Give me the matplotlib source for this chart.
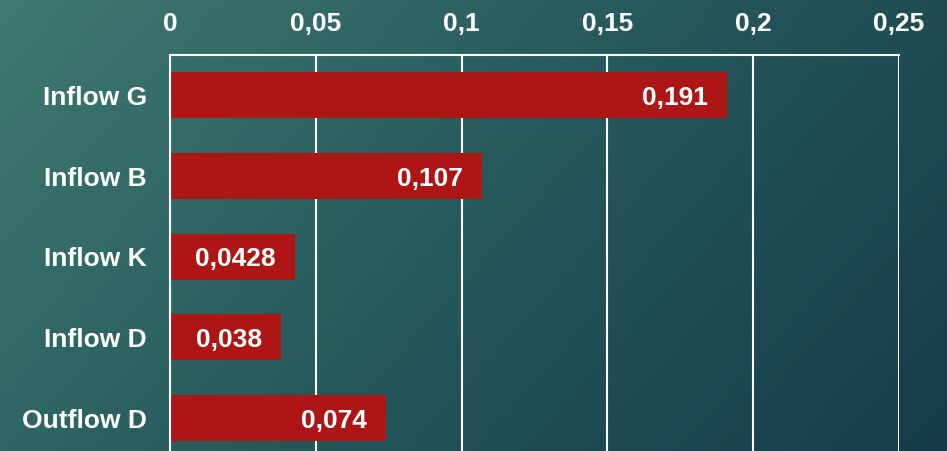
import numpy as np
import matplotlib.pyplot as plt
from matplotlib.colors import LinearSegmentedColormap

categories = ["Inflow G", "Inflow B", "Inflow K", "Inflow D", "Outflow D"]
values = [0.191, 0.107, 0.0428, 0.038, 0.074]
ticks = [0, 0.05, 0.1, 0.15, 0.2, 0.25]
tick_labels = ["0", "0,05", "0,1", "0,15", "0,2", "0,25"]

plt.rcParams['font.family'] = ['Liberation Sans', 'DejaVu Sans']

fig = plt.figure(figsize=(9.47, 4.51), dpi=100)

# diagonal teal gradient behind everything
bg = fig.add_axes([0, 0, 1, 1], zorder=-1)
xx, yy = np.meshgrid(np.linspace(0, 1, 300), np.linspace(0, 1, 150))
grad = 0.7 * xx + 0.3 * yy
cmap = LinearSegmentedColormap.from_list("bg", ["#3e7a6f", "#25585b", "#163a4a"])
bg.imshow(grad, cmap=cmap, aspect="auto", extent=[0, 1, 0, 1], origin="upper")
bg.axis("off")

ax = fig.add_axes([170 / 947, -7.4 / 451, (899 - 170) / 947, 403.4 / 451])
ax.patch.set_alpha(0)

y = np.arange(len(categories))
bars = ax.barh(y, values, height=0.57, color="#ae1616", zorder=2)

for b, v in zip(bars, values):
    txt = f"{v:g}".replace(".", ",")
    ax.annotate(txt, xy=(b.get_width(), b.get_y() + b.get_height() / 2),
                xytext=(-13.7, -2), textcoords="offset points",
                ha="right", va="center", color="white", fontsize=19, fontweight="bold", zorder=3)

ax.set_xlim(0, 0.25)
ax.set_ylim(4.5, -0.5)
ax.set_yticks(y)
ax.set_yticklabels(categories, fontsize=19, fontweight="bold", color="white")
ax.set_xticks(ticks)
ax.set_xticklabels(tick_labels, fontsize=19, fontweight="bold", color="white")
ax.xaxis.tick_top()
ax.tick_params(axis="both", length=0)
ax.tick_params(axis="x", pad=13.5)
ax.tick_params(axis="y", pad=16.5)

ax.grid(axis="x", color="white", linewidth=1.5, zorder=1)
ax.set_axisbelow(True)
for side in ["bottom", "right"]:
    ax.spines[side].set_visible(False)
for side in ["top", "left"]:
    ax.spines[side].set_color("white")
    ax.spines[side].set_linewidth(1.5)

fig.savefig("out.png", dpi=100)
